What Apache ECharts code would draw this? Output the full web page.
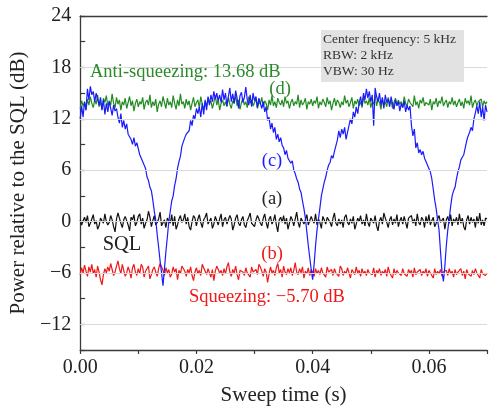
<!DOCTYPE html>
<html>
<head>
<meta charset="utf-8">
<script src="https://cdn.jsdelivr.net/npm/echarts@6/dist/echarts.min.js"></script>
<style>html,body{margin:0;padding:0;background:#fff}#c{width:490px;height:411px}</style>
</head>
<body>
<div id="c"></div>
<script>
// Sweep sampling (uniform instrument sweep)
const sweepStart = 0;
const sweepStep = 0.00025;

// (c) blue trace
const traceC = [
12.0,13.5,12.2,14.0,13.0,15.5,14.2,15.8,14.8,15.2,14.0,15.0,14.3,13.6,
14.5,13.0,14.2,12.5,13.8,12.8,14.0,13.2,12.4,13.6,12.9,
13.2,12.2,11.5,12.6,11.0,11.8,10.8,11.4,10.2,
10.0,9.6,9.0,9.8,8.8,9.2,8.5,
7.8,8.0,7.0,6.8,6.2,5.2,4.8,4.0,3.6,2.5,1.2,0.2,
-1.5,-3.0,-4.6,-6.0,-7.5,
-5.5,-3.5,-1.8,0,1.2,2.4,3.0,4.2,5.0,6.2,7.0,7.6,8.8,9.3,9.8,10.2,10.0,10.6,11.8,11.2,
12.4,12.0,13.2,12.6,13.4,12.2,13.8,12.5,14.2,13.0,14.6,13.6,14.8,14.0,15.2,14.3,15.0,14.1,
14.8,13.9,15.4,14.2,15.0,13.5,14.6,15.6,14.0,14.9,13.8,15.3,14.4,13.2,14.7,15.1,13.9,14.5,15.7,14.2,
13.6,14.8,13.4,15.0,14.1,14.6,13.3,14.4,13.8,
13.2,14.0,12.8,13.4,11.8,12.2,10.8,11.5,10.4,
11.0,9.6,10.2,9.3,9.8,8.9,8.6,7.8,8.3,7.4,7.6,
6.8,7.1,6.0,5.6,5.0,4.6,3.8,3.4,2.4,1.5,0.4,-1.2,-2.8,-4.2,-5.6,-6.8,
-5.0,-2.8,-1.0,0.3,1.6,3.0,3.8,4.6,5.2,6.0,6.6,6.9,7.7,7.4,8.2,8.0,9.5,10.6,9.8,10.8,
10.2,11.0,9.6,10.4,11.2,12.0,11.4,12.8,12.2,13.4,12.6,13.8,
14.6,13.5,15.0,14.2,15.5,14.4,15.2,14.0,14.8,11.2,15.6,14.6,
14.0,15.0,13.6,14.5,13.2,14.8,13.9,14.3,13.4,14.6,13.7,13.1,14.2,13.5,14.0,12.9,13.8,13.3,14.1,12.8,
13.6,13.0,13.5,
11.2,10.0,10.8,8.6,9.2,8.0,8.4,7.8,8.2,7.4,7.0,7.2,6.2,5.8,5.0,
3.8,2.5,1.5,0.2,-1.0,-3.5,-5.8,-7.0,
-5.2,-2.8,-1.0,0.3,1.8,3.0,3.6,4.0,5.0,5.8,6.4,7.2,7.5,7.8,8.6,9.4,10.0,10.4,11.0,10.6,
12.0,12.7,13.5,12.6,14.0,12.2,13.4,11.8,13.6,12.8
];

// (d) green trace (anti-squeezing)
const traceD = [
13.2,14.1,13.5,13.9,13.0,14.3,13.6,14.6,13.8,13.3,14.2,13.7,14.8,13.4,14.0,13.1,14.4,13.9,14.7,13.5,
14.1,13.6,14.9,13.8,13.3,14.5,13.7,14.2,13.0,14.0,13.6,14.4,13.2,13.9,14.6,13.5,14.1,12.9,13.8,14.3,
13.4,14.0,13.7,14.5,13.1,13.9,14.2,13.6,14.8,13.3,14.0,13.5,14.3,12.8,13.7,14.1,13.4,14.6,13.9,13.2,
14.4,13.6,14.0,13.3,14.7,13.8,13.1,14.2,13.5,14.9,13.7,14.0,13.2,14.3,13.6,14.1,13.0,13.8,14.5,13.4,
13.9,14.2,13.3,14.6,13.7,13.1,14.0,13.5,14.4,13.8,14.1,13.2,13.9,14.7,13.6,14.3,13.0,13.8,14.2,13.5,
14.0,13.4,14.5,13.7,13.2,14.1,13.8,14.8,13.5,14.2,13.1,13.9,14.4,13.6,14.0,13.3,14.6,13.8,14.2,13.5,
13.9,14.3,13.2,14.0,13.7,14.5,13.4,14.1,13.8,13.0,14.2,13.6,14.7,13.5,14.0,13.3,14.4,13.9,13.6,14.2,
13.4,14.6,13.8,14.1,13.2,13.9,14.3,13.5,14.0,13.7,14.8,13.3,14.2,13.6,13.9,14.4,13.1,14.0,13.7,14.3,
13.5,14.1,13.8,14.6,13.2,14.0,13.6,14.3,13.9,13.4,14.5,13.7,14.1,13.0,13.8,14.4,13.5,14.2,13.9,13.3,
14.0,13.6,14.7,13.8,14.2,13.4,13.9,14.5,13.2,14.1,13.7,14.3,13.5,14.0,13.3,14.6,13.8,14.1,13.6,14.4,
13.3,14.0,13.7,14.8,13.5,14.2,13.9,13.1,14.3,13.6,14.0,13.4,14.5,13.8,14.1,13.2,13.9,14.4,13.6,14.2,
13.7,14.0,13.3,14.6,13.8,13.5,14.3,13.9,14.1,13.4,14.7,13.6,14.0,13.2,14.2,13.8,14.5,13.5,13.9,14.1,
13.6,14.3,13.0,14.0,13.7,14.4,13.4,14.1,13.8,14.6,13.5,13.9,14.2,13.3,14.0,13.7,14.5,13.6,14.1,13.4,
13.9,14.3,13.5,14.0,13.2,14.4,13.8,14.1,13.6,14.7,13.3,13.9,14.2,13.5,14.0,13.8,14.3,13.4,14.1,13.7,
14.0
];

// (a) black trace (SQL)
const traceA = [
0.2,-0.4,0.1,0.5,-0.1,0.7,-0.6,-0.2,0.3,0.8,-0.3,0.1,-0.9,-0.5,0.4,0.6,-0.2,0.9,0.0,-0.4,
-0.1,0.7,0.2,-0.6,-1.2,0.3,1.0,0.4,-0.2,-0.7,0.2,0.6,0.1,-0.4,-1.1,0.5,0.2,0.8,-0.5,-0.1,
0.6,0.9,-0.3,0.4,-0.8,-0.2,0.2,1.2,0.5,-0.6,0.1,0.7,-0.4,-0.1,0.3,1.1,-0.5,-0.3,0.2,-0.7,
0.4,0.1,-0.2,0.8,-0.5,0.6,-0.9,-0.4,0.3,0.7,-0.1,0.2,0.9,-0.3,0.5,-0.6,-1.0,0.0,0.7,0.4,
-0.5,0.3,0.8,-0.1,-0.7,0.2,0.5,1.0,-0.3,-0.2,0.4,-0.8,-0.3,0.6,0.1,-0.4,0.3,0.9,-0.6,0.2,
0.5,-0.3,-0.1,0.7,0.3,-1.0,-0.4,0.4,0.8,-0.2,-0.5,0.2,0.6,-0.4,-0.7,0.1,0.5,1.0,-0.2,-0.3,
-0.6,0.2,0.7,0.3,-0.2,-0.5,0.4,0.9,-0.1,-0.8,0.3,0.6,-0.3,0.1,0.8,-0.4,-1.2,0.2,0.5,-0.1,
0.7,-0.3,0.4,-0.9,-0.2,0.6,0.2,-0.5,0.3,1.1,-0.1,-0.7,0.4,0.5,-0.3,0.2,0.8,-0.4,-0.6,0.6,
0.1,-0.2,0.9,-0.4,0.3,-0.1,-0.8,0.6,0.2,-0.3,0.5,0.7,-0.1,-0.6,0.4,1.0,-0.2,-0.5,0.3,-0.3,
0.2,-0.7,0.5,0.8,-0.1,-0.4,0.3,-0.2,0.6,-0.9,-0.3,0.4,0.0,0.7,-0.3,0.2,-0.5,0.9,-0.1,-0.6,
0.4,0.3,-0.2,0.7,-0.5,-1.1,0.1,0.5,-0.3,1.0,0.4,-0.1,-0.7,0.2,0.6,-0.4,0.3,-0.2,0.8,-0.6,
0.1,0.5,-0.3,0.6,-0.1,-0.8,0.4,0.2,0.7,-0.2,0.3,-0.5,0.9,-0.1,-0.4,0.5,0.2,-0.7,0.6,-0.2,
0.8,-0.4,0.1,0.5,-0.6,-0.2,0.3,0.7,-0.1,-0.3,0.4,-0.9,0.2,0.6,-0.2,0.8,-0.5,0.3,-0.1,0.5,
-0.4,0.9,-0.2,0.4,-0.6,-1.0,0.2,0.7,-0.3,0.5,-0.1,0.3,-0.7,0.6,-0.2,1.0,-0.4,0.2,-0.5,0.4,
0.3
];

// (b) red trace (squeezing)
const traceB = [
-6.2,-5.4,-6.0,-5.1,-5.8,-6.4,-5.3,-5.9,-5.0,-6.1,-5.6,-6.5,-5.2,-5.9,-6.8,-7.4,-6.2,-5.5,-6.0,-5.3,
-5.8,-4.9,-5.6,-6.3,-5.9,-5.2,-4.6,-5.5,-6.1,-5.0,-5.7,-6.4,-6.0,-5.3,-5.8,-6.6,-5.4,-5.0,-5.9,-6.3,
-5.5,-6.1,-5.0,-5.3,-6.5,-5.8,-6.0,-5.2,-6.7,-6.2,-5.6,-5.3,-5.9,-6.4,-5.5,-4.9,-5.1,-5.7,-6.3,-5.4,
-6.0,-5.6,-6.5,-6.1,-5.3,-5.9,-5.5,-6.8,-5.7,-6.1,-5.2,-5.0,-5.8,-6.4,-5.6,-6.0,-5.3,-6.3,-6.9,-5.9,
-5.4,-6.1,-5.7,-6.3,-5.0,-5.4,-5.8,-6.2,-5.5,-6.0,-6.5,-5.6,-6.9,-5.8,-5.2,-5.4,-6.0,-5.7,-6.3,-5.5,
-6.1,-5.3,-4.8,-5.9,-6.4,-5.6,-6.0,-5.2,-6.2,-6.8,-5.7,-5.5,-5.9,-6.3,-5.4,-6.0,-5.8,-6.5,-5.3,-5.9,
-6.1,-5.6,-6.2,-5.0,-5.3,-5.8,-6.4,-5.5,-5.9,-7.1,-6.1,-5.3,-6.0,-5.7,-6.3,-5.4,-4.9,-6.0,-5.6,-6.5,
-5.2,-5.9,-6.2,-5.5,-6.0,-5.4,-6.3,-5.7,-4.8,-5.9,-6.2,-5.5,-6.0,-5.3,-6.6,-5.8,-6.1,-5.4,-6.3,-5.6,
-5.9,-6.4,-5.5,-6.1,-5.7,-6.2,-5.4,-6.0,-5.8,-6.5,-5.3,-5.9,-6.1,-5.6,-6.3,-5.5,-6.0,-5.8,-6.4,-5.2,
-5.5,-6.3,-5.8,-6.1,-5.4,-6.0,-6.6,-5.6,-5.9,-6.2,-5.3,-6.0,-5.7,-6.4,-5.5,-6.1,-5.8,-6.3,-5.6,-6.0,
-5.9,-6.2,-5.4,-6.5,-5.7,-6.0,-5.5,-6.3,-5.8,-6.1,-5.6,-6.4,-5.3,-6.0,-5.9,-6.6,-5.5,-6.2,-5.7,-6.0,
-5.8,-6.3,-5.5,-6.1,-5.9,-6.4,-5.6,-6.0,-5.7,-6.5,-5.4,-6.2,-5.9,-6.0,-5.6,-6.3,-5.8,-6.1,-5.5,-6.4,
-5.7,-6.0,-5.9,-6.6,-5.5,-6.2,-5.8,-6.1,-5.6,-6.4,-5.9,-6.0,-5.7,-6.3,-5.5,-6.1,-5.8,-6.5,-5.6,-6.2,
-5.9,-6.0,-5.5,-6.3,-5.8,-6.7,-5.6,-6.1,-5.9,-6.4,-5.7,-6.2,-5.5,-6.0,-5.8,-6.6,-5.6,-6.1,-5.9,-6.3,
-6.0
];

// Axis / gridline values
const yGridValues = [18, 12, 6, 0, -6, -12];
const xLabelValues = ['0.00', '0.02', '0.04', '0.06'];

const legendLines = ['Center frequency: 5 kHz', 'RBW: 2 kHz', 'VBW: 30 Hz'];
const antiText = 'Anti-squeezing: 13.68 dB';
const squeezeText = 'Squeezing: \u22125.70 dB';

function pairs(arr) {
  return arr.map((v, i) => [sweepStart + i * sweepStep, v]);
}

const FONT = '"Liberation Serif", "Times New Roman", serif';
const AXIS_COLOR = '#3a3a3a';

const chart = echarts.init(document.getElementById('c'), null, {renderer: 'canvas'});

function txt(text, x, y, size, color, align) {
  return {
    type: 'text', x: x, y: y, z: 100,
    style: {
      text: text, fill: color, font: size + 'px ' + FONT,
      align: align || 'center', verticalAlign: 'middle',
      textAlign: align || 'center', textVerticalAlign: 'middle'
    }
  };
}

const option = {
  animation: false,
  backgroundColor: '#ffffff',
  grid: {left: 77, top: 16, right: -2, bottom: 59, containLabel: false},
  xAxis: [{
    type: 'value', min: 0, max: 0.07, interval: 0.01,
    name: 'Sweep time (s)', nameLocation: 'middle', nameGap: 35,
    nameTextStyle: {fontFamily: FONT, fontSize: 21, color: '#222'},
    axisLine: {show: true, onZero: false, lineStyle: {color: AXIS_COLOR, width: 1.3}},
    axisTick: {show: true, inside: false, length: 4, lineStyle: {color: AXIS_COLOR, width: 1.2}},
    axisLabel: {
      fontFamily: FONT, fontSize: 20, color: '#222', margin: 8,
      formatter: function (v) {
        const s = v.toFixed(2);
        return xLabelValues.indexOf(s) >= 0 ? s : '';
      }
    },
    splitLine: {show: false}
  }, {
    type: 'value', min: 0, max: 0.07, position: 'top',
    axisLine: {show: true, onZero: false, lineStyle: {color: AXIS_COLOR, width: 1.3}},
    axisTick: {show: false}, axisLabel: {show: false}, splitLine: {show: false}
  }],
  yAxis: {
    type: 'value', min: -15, max: 24, interval: 3,
    name: 'Power relative to the SQL (dB)', nameLocation: 'middle', nameGap: 46,
    nameTextStyle: {fontFamily: FONT, fontSize: 21, color: '#222'},
    axisLine: {show: true, onZero: false, lineStyle: {color: AXIS_COLOR, width: 1.3}},
    axisTick: {show: true, inside: true, length: 5, lineStyle: {color: AXIS_COLOR, width: 1.2}},
    axisLabel: {
      fontFamily: FONT, fontSize: 20, color: '#222', margin: 9,
      formatter: function (v) {
        if (v % 6 !== 0 || v === -15) return '';
        return v < 0 ? '\u2212' + Math.abs(v) : String(v);
      }
    },
    splitLine: {show: false}
  },
  series: [
    {
      name: 'grid', type: 'line', data: [], z: 1, silent: true,
      markLine: {
        silent: true, symbol: 'none', animation: false,
        label: {show: false},
        lineStyle: {color: '#dadada', width: 1, type: 'solid'},
        data: yGridValues.map(v => ({yAxis: v}))
      }
    },
    {name: '(a)', type: 'line', data: pairs(traceA), showSymbol: false, z: 3,
     lineStyle: {color: '#111111', width: 1.2}},
    {name: '(b)', type: 'line', data: pairs(traceB), showSymbol: false, z: 3,
     lineStyle: {color: '#f01818', width: 1.2}},
    {name: '(d)', type: 'line', data: pairs(traceD), showSymbol: false, z: 3,
     lineStyle: {color: '#228b22', width: 1.2}},
    {name: '(c)', type: 'line', data: pairs(traceC), showSymbol: false, z: 4,
     lineStyle: {color: '#1a1aff', width: 1.2}}
  ],
  graphic: [
    {type: 'rect', z: 90, shape: {x: 321, y: 30, width: 143, height: 52}, style: {fill: '#e2e2e2'}},
    txt(legendLines[0], 323, 39, 13.5, '#333333', 'left'),
    txt(legendLines[1], 323, 55, 13.5, '#333333', 'left'),
    txt(legendLines[2], 323, 71, 13.5, '#333333', 'left'),
    txt(antiText, 90, 72, 18.5, '#2a8a2a', 'left'),
    txt('(d)', 280, 89, 18.5, '#2a8a2a'),
    txt('(c)', 272, 161, 18.5, '#1a1aff'),
    txt('(a)', 272, 199, 18.5, '#222222'),
    txt('(b)', 272, 254, 18.5, '#f01818'),
    txt('SQL', 122, 245, 20.5, '#222222'),
    txt(squeezeText, 189, 297, 18.5, '#f01818', 'left')
  ]
};

chart.setOption(option);
</script>
</body>
</html>
